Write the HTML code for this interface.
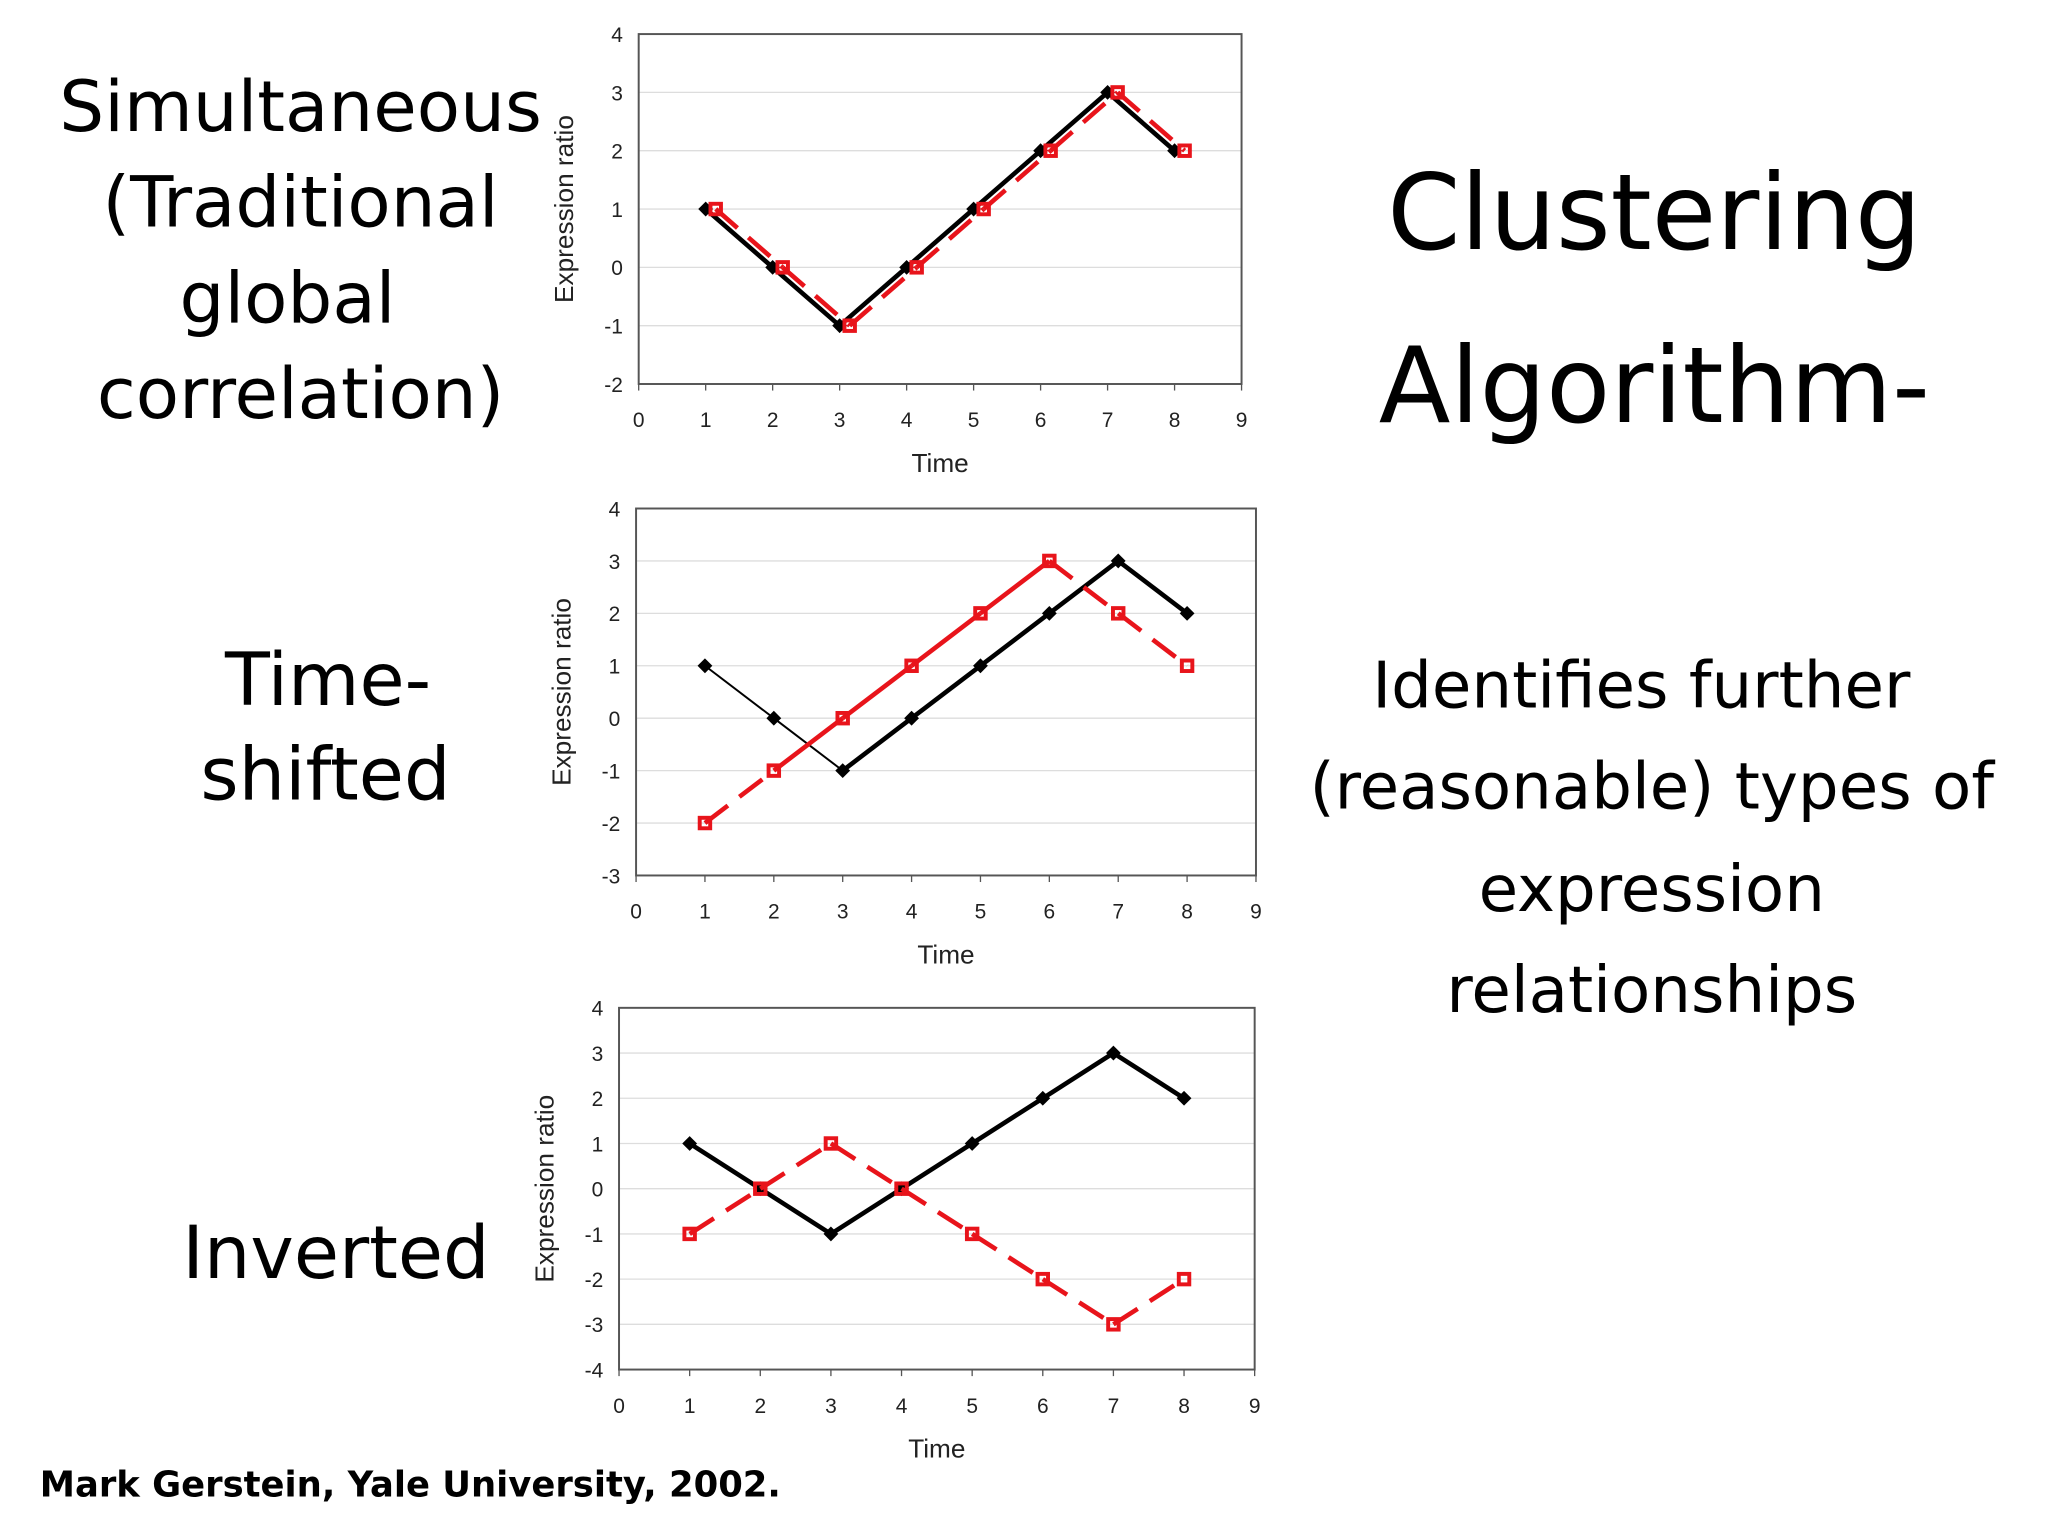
<!DOCTYPE html>
<html><head><meta charset="utf-8"><style>
html,body{margin:0;padding:0;background:#fff;}
svg{display:block;}
.big{font-family:"DejaVu Sans","Liberation Sans",sans-serif;fill:#000;}
.tick{font-family:"Liberation Sans",sans-serif;font-size:16px;fill:#222;}
.ax{font-family:"Liberation Sans",sans-serif;font-size:20px;fill:#222;}
</style></head><body>
<svg id="s" width="2048" height="1536" viewBox="0 0 1562 1172" xmlns="http://www.w3.org/2000/svg">
<g class="big">
<text x="229" y="100" font-size="54" text-anchor="middle">Simultaneous</text>
<text x="229" y="173" font-size="54" text-anchor="middle">(Traditional</text>
<text x="219" y="246" font-size="54" text-anchor="middle">global</text>
<text x="229" y="319" font-size="54" text-anchor="middle">correlation)</text>
<text x="250" y="538" font-size="56" text-anchor="middle">Time-</text>
<text x="248" y="610" font-size="56" text-anchor="middle">shifted</text>
<text x="256" y="975" font-size="56" text-anchor="middle">Inverted</text>
<text x="1262" y="190" font-size="80" text-anchor="middle">Clustering</text>
<text x="1262" y="322" font-size="80" text-anchor="middle">Algorithm-</text>
<text x="1252" y="540" font-size="49" text-anchor="middle">Identifies further</text>
<text x="1260" y="617" font-size="49" text-anchor="middle">(reasonable) types of</text>
<text x="1260" y="695" font-size="49" text-anchor="middle">expression</text>
<text x="1260" y="772" font-size="49" text-anchor="middle">relationships</text>
<text x="30" y="1142" font-size="27" font-weight="bold">Mark Gerstein, Yale University, 2002.</text>
</g>
<g id="charts"></g>
</svg>
<script>
const xTicks=[0,1,2,3,4,5,6,7,8,9];
const timePoints=[1,2,3,4,5,6,7,8];
const black1=[1,0,-1,0,1,2,3,2];
const red1=[1,0,-1,0,1,2,3,2];
const black2=[1,0,-1,0,1,2,3,2];
const red2=[-2,-1,0,1,2,3,2,1];
const black3=[1,0,-1,0,1,2,3,2];
const red3=[-1,0,1,0,-1,-2,-3,-2];
const charts=[
 {name:'simultaneous',x0:487,x1:947,y0:26,y1:293,ymin:-2,ymax:4,black:black1,red:red1,redShift:0.15,solidRed:[],thinBlack:[]},
 {name:'time-shifted',x0:485,x1:958,y0:388,y1:668,ymin:-3,ymax:4,black:black2,red:red2,redShift:0,solidRed:[1,2,3,4],thinBlack:[0,1]},
 {name:'inverted',x0:472,x1:957,y0:769,y1:1045,ymin:-4,ymax:4,black:black3,red:red3,redShift:0,solidRed:[],thinBlack:[]}
];
const NS='http://www.w3.org/2000/svg';
const root=document.getElementById('charts');
function mk(t,a,p){const e=document.createElementNS(NS,t);for(const k in a)e.setAttribute(k,a[k]);(p||root).appendChild(e);return e;}
charts.forEach(c=>{
 const g=mk('g',{});
 
 
 const sx=v=>c.x0+(v-0)/(9-0)*(c.x1-c.x0);
 const sy=v=>c.y1-(v-c.ymin)/(c.ymax-c.ymin)*(c.y1-c.y0);
 for(let v=c.ymin;v<=c.ymax;v++){
  if(v>c.ymin&&v<c.ymax){const gl=mk('line',{x1:c.x0,x2:c.x1,y1:sy(v),y2:sy(v),stroke:'#ddd','stroke-width':1},g);
  
  }
  const t=mk('text',{x:c.x0-12,y:sy(v)+6,'text-anchor':'end',class:'tick'},g);t.textContent=v;
  
  
 }
 const fr=mk('rect',{x:c.x0,y:c.y0,width:c.x1-c.x0,height:c.y1-c.y0,fill:'none',stroke:'#555','stroke-width':1.5},g);
 
 
 xTicks.forEach(v=>{
  mk('line',{x1:sx(v),x2:sx(v),y1:c.y1,y2:c.y1+5,stroke:'#555'},g);
  const t=mk('text',{x:sx(v),y:c.y1+33,'text-anchor':'middle',class:'tick'},g);t.textContent=v;
  
  
 });
 const xt=mk('text',{x:(c.x0+c.x1)/2,y:c.y1+67,'text-anchor':'middle',class:'ax'},g);xt.textContent='Time';
 
 
 const yx=c.x0-50,yy=(c.y0+c.y1)/2;
 const yt=mk('text',{x:yx,y:yy,'text-anchor':'middle',class:'ax',transform:`rotate(-90 ${yx} ${yy})`},g);yt.textContent='Expression ratio';
 
 
 for(let i=0;i<timePoints.length-1;i++){
  const thin=c.thinBlack.includes(i);
  const l=mk('line',{x1:sx(timePoints[i]),y1:sy(c.black[i]),x2:sx(timePoints[i+1]),y2:sy(c.black[i+1]),stroke:'#000','stroke-width':thin?1.5:3.5},g);
  
  
 }
 timePoints.forEach((t,i)=>{const p=mk('rect',{x:sx(t)-4,y:sy(c.black[i])-4,width:8,height:8,fill:'#000',transform:`rotate(45 ${sx(t)} ${sy(c.black[i])})`},g);
  
  });
 for(let i=0;i<timePoints.length-1;i++){
  const solid=c.solidRed.includes(i);
  const l=mk('line',{x1:sx(timePoints[i]+c.redShift),y1:sy(c.red[i]),x2:sx(timePoints[i+1]+c.redShift),y2:sy(c.red[i+1]),stroke:'#e8141b','stroke-width':3.5,'stroke-dasharray':solid?'none':'22 11'},g);
  
  
 }
 timePoints.forEach((t,i)=>{const p=mk('rect',{x:sx(t+c.redShift)-4,y:sy(c.red[i])-4,width:8,height:8,fill:'none',stroke:'#e8141b','stroke-width':3},g);
  
  });
});
</script>
</body></html>
